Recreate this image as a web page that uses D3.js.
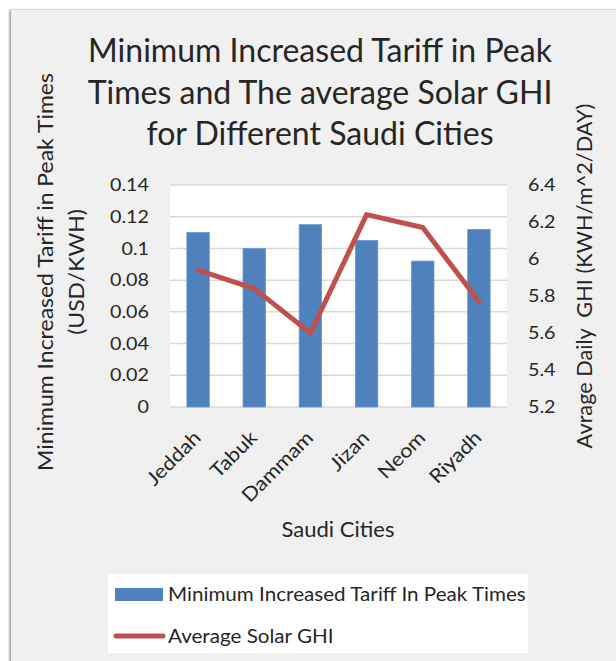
<!DOCTYPE html>
<html><head><meta charset="utf-8">
<script src="https://cdn.jsdelivr.net/npm/d3@7"></script>
<style>body{margin:0;background:#fff;} svg{display:block;font-family:Lato,'Open Sans',sans-serif;fill:#262626;}</style>
</head><body>
<svg id="c" width="616" height="661"></svg>
<script>
const cities = ["Jeddah","Tabuk","Dammam","Jizan","Neom","Riyadh"];
const tariff = [0.110,0.100,0.115,0.105,0.092,0.112];
const ghi = [5.94,5.84,5.60,6.24,6.17,5.77];
const leftTicks = [0,0.02,0.04,0.06,0.08,0.10,0.12,0.14];
const leftTickLabels = ["0","0.02","0.04","0.06","0.08","0.1","0.12","0.14"];
const rightTicks = [5.2,5.4,5.6,5.8,6.0,6.2,6.4];
const rightTickLabels = ["5.2","5.4","5.6","5.8","6","6.2","6.4"];
const titleLines = ["Minimum Increased Tariff in Peak","Times and The average Solar GHI","for Different Saudi Cities"];
const leftTitle = ["Minimum Increased Tariff in Peak Times","(USD/KWH)"];
const rightTitle = "Avrage Daily  GHI (KWH/m^2/DAY)";
const xTitle = "Saudi Cities";
const legendLabels = ["Minimum Increased Tariff In Peak Times","Average Solar GHI"];

const svg = d3.select("#c");
const txt = "#262626";
// horizontal compression factor so that a Lato string matches the reference width
function sxFor(sel, target){ return target / sel.node().getComputedTextLength(); }

const defs = svg.append("defs");
const f = defs.append("filter").attr("id","sh").attr("x","-5%").attr("y","-5%").attr("width","110%").attr("height","110%");
f.append("feDropShadow").attr("dx",-1.5).attr("dy",0).attr("stdDeviation",1.2).attr("flood-color","#777").attr("flood-opacity",0.8);
svg.append("rect").attr("x",11).attr("y",10).attr("width",616).attr("height",660).attr("fill","#f0f0f0").attr("filter","url(#sh)");

const pl = 170, pr = 507, pt = 185, pb = 407;
const x = d3.scaleBand().domain(cities).range([pl,pr]).paddingInner(0.6).paddingOuter(0.3);
const yL = d3.scaleLinear().domain([0,0.14]).range([pb,pt]);
const yR = d3.scaleLinear().domain([5.2,6.4]).range([pb,pt]);

svg.append("rect").attr("x",pl).attr("y",pt).attr("width",pr-pl).attr("height",pb-pt).attr("fill","#fff");
svg.append("g").selectAll("line").data(leftTicks).join("line")
  .attr("x1",pl).attr("x2",pr).attr("y1",d=>yL(d)).attr("y2",d=>yL(d))
  .attr("stroke","#d9d9d9").attr("stroke-width",1.5);

svg.append("g").selectAll("rect").data(tariff).join("rect")
  .attr("x",(d,i)=>x(cities[i])).attr("width",x.bandwidth())
  .attr("y",d=>yL(d)).attr("height",d=>yL(0)-yL(d))
  .attr("fill","#4f81bd").attr("stroke","#6d97cc").attr("stroke-width",0.8);

const line = d3.line().x((d,i)=>x(cities[i])+x.bandwidth()/2).y(d=>yR(d));
svg.append("path").datum(ghi).attr("d",line).attr("fill","none")
  .attr("stroke","#c0504d").attr("stroke-width",5).attr("stroke-linejoin","round").attr("stroke-linecap","round");

// axes
const tickFs = 17.6;
const axL = svg.append("g").attr("transform",`translate(${pl},0)`)
  .call(d3.axisLeft(yL).tickValues(leftTicks).tickFormat((d,i)=>leftTickLabels[i]).tickSize(0));
const axR = svg.append("g").attr("transform",`translate(${pr},0)`)
  .call(d3.axisRight(yR).tickValues(rightTicks).tickFormat((d,i)=>rightTickLabels[i]).tickSize(0));
[axL,axR].forEach(a=>{ a.select(".domain").remove(); a.selectAll("text").attr("font-family","Lato").attr("font-size",tickFs).attr("fill",txt).attr("x",0); });
const tsx = sxFor(axL.selectAll("text").filter((d,i)=>i===7), 39);
axL.selectAll("text").attr("transform",`translate(-21,0) scale(${tsx},1)`);
axR.selectAll("text").attr("transform",`translate(21,0) scale(${tsx},1)`);

// category labels (tick groups are already at band centres)
const axB = svg.append("g").attr("transform",`translate(0,${pb})`)
  .call(d3.axisBottom(x).tickSize(0).tickPadding(0));
axB.select(".domain").remove();
axB.selectAll("text").attr("font-family","Lato").attr("font-size",tickFs*1.1).attr("fill",txt)
  .attr("text-anchor","end").attr("dy",0).attr("y",0)
  .attr("transform",`translate(4,32) rotate(-45) scale(${tsx},1)`);

// title
const tt = svg.append("g").selectAll("text").data(titleLines).join("text")
  .attr("text-anchor","middle").attr("font-size",33.5).attr("fill",txt).text(d=>d);
const ttsx = sxFor(tt.filter((d,i)=>i===0), 464);
tt.attr("transform",(d,i)=>`translate(320,${[62,104,145][i]}) scale(${ttsx},1)`);

// left axis title
const lt = svg.append("g").selectAll("text").data(leftTitle).join("text")
  .attr("text-anchor","middle").attr("font-size",22).attr("fill",txt).text(d=>d);
const ltsx = sxFor(lt.filter((d,i)=>i===0), 398);
lt.attr("transform",(d,i)=>`translate(${[53,84][i]},272) rotate(-90) scale(${ltsx},1)`);

// right axis title
const rt = svg.append("text").attr("text-anchor","middle").attr("font-size",22).attr("fill",txt)
  .style("white-space","pre").text(rightTitle);
rt.attr("transform",`translate(592,276) rotate(-90) scale(${sxFor(rt,345)},1)`);

// x title
const xt = svg.append("text").attr("text-anchor","middle").attr("font-size",21).attr("fill",txt).text(xTitle);
xt.attr("transform",`translate(338,537) scale(${sxFor(xt,113)},1)`);

// legend
const lg = svg.append("g");
lg.append("rect").attr("x",108).attr("y",574).attr("width",420).attr("height",79).attr("fill","#fff");
lg.append("rect").attr("x",115).attr("y",588).attr("width",48).attr("height",13).attr("fill","#4f81bd");
lg.append("line").attr("x1",116).attr("x2",163).attr("y1",636).attr("y2",636).attr("stroke","#c0504d").attr("stroke-width",5).attr("stroke-linecap","round");
const lgt = lg.selectAll("text").data(legendLabels).join("text").attr("font-size",19.5).attr("fill",txt).text(d=>d);
const lgsx = sxFor(lgt.filter((d,i)=>i===0), 358);
lgt.attr("transform",(d,i)=>`translate(168,${[601,643][i]}) scale(${lgsx},1)`);
</script>
</body></html>
